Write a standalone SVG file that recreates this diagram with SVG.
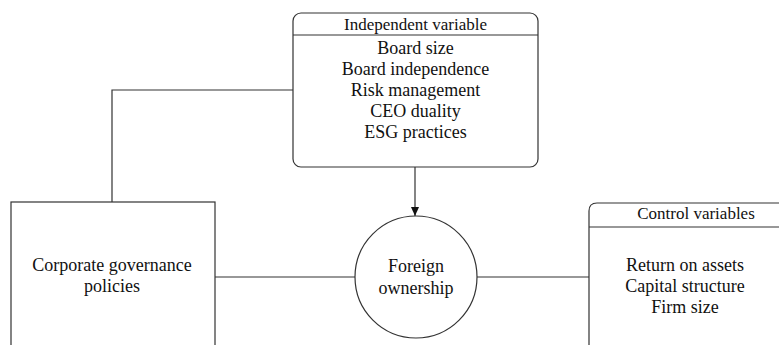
<svg xmlns="http://www.w3.org/2000/svg" width="779" height="345" viewBox="0 0 779 345">
<style>
.box{fill:#fff;stroke:#333;stroke-width:1.2}
.ln{fill:none;stroke:#333;stroke-width:1.2}
text{font-family:"Liberation Serif","Times New Roman",serif;font-size:18px;fill:#111;text-anchor:middle}
.h{font-size:17px}
</style>
<defs>
<marker id="arr" markerWidth="10" markerHeight="10" refX="9" refY="5" orient="auto" markerUnits="userSpaceOnUse">
<path d="M0,1 L9,5 L0,9 Z" fill="#111"/>
</marker>
</defs>
<g id="connectors">
<polyline class="ln" points="293,90 112,90 112,202"/>
<line class="ln" x1="415" y1="167" x2="415" y2="216" marker-end="url(#arr)"/>
<line class="ln" x1="215" y1="277" x2="355" y2="277"/>
<line class="ln" x1="477" y1="277" x2="589" y2="277"/>
</g>
<g id="independent">
<rect class="box" x="293" y="13" width="245" height="154" rx="8"/>
<line class="ln" x1="293" y1="35" x2="538" y2="35"/>
<text class="h" x="415.5" y="30">Independent variable</text>
<text x="415.5" y="54">Board size</text>
<text x="415.5" y="75">Board independence</text>
<text x="415.5" y="96">Risk management</text>
<text x="415.5" y="117">CEO duality</text>
<text x="415.5" y="138">ESG practices</text>
</g>
<g id="corporate">
<rect class="box" x="11" y="202" width="204" height="170"/>
<text x="112" y="271">Corporate governance</text>
<text x="112" y="292">policies</text>
</g>
<g id="foreign">
<circle class="box" cx="416" cy="277" r="61"/>
<text x="416" y="272">Foreign</text>
<text x="416" y="294">ownership</text>
</g>
<g id="control">
<path class="box" d="M589,372 L589,211 Q589,203 597,203 L800,203 L800,372 Z"/>
<line class="ln" x1="589" y1="227" x2="779" y2="227"/>
<text class="h" x="696" y="219">Control variables</text>
<text x="685" y="271">Return on assets</text>
<text x="685" y="292">Capital structure</text>
<text x="685" y="313">Firm size</text>
</g>
</svg>
